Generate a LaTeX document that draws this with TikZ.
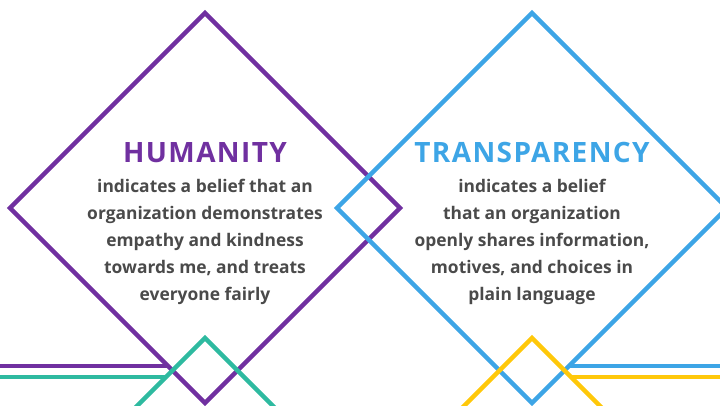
\documentclass[tikz,border=0pt]{standalone}
\usepackage{fontspec}
\setmainfont{Open Sans}
\newfontfamily\spacedfont[LetterSpace=5]{Open Sans}
\definecolor{hpurple}{HTML}{7030A0}
\definecolor{tblue}{HTML}{3DA5E6}
\definecolor{cteal}{HTML}{2EBAA0}
\definecolor{cyellow}{HTML}{FFC80A}
\definecolor{bodygray}{HTML}{4A4A4A}
\begin{document}
\begin{tikzpicture}[x=1pt,y=-1pt,
  frame/.style={line width=4.5pt, line join=miter},
  title/.style={font=\spacedfont\bfseries\fontsize{28}{30}\selectfont, anchor=center},
  body/.style={font=\bfseries\fontsize{17.4}{26.8}\selectfont, text=bodygray, align=center, anchor=center}]
\useasboundingbox (0,0) rectangle (720,406);
\clip (0,0) rectangle (720,406);
% purple diamond and line
\coordinate (pT) at (205,13);
\coordinate (pR) at (400,208);
\coordinate (pB) at (205,403);
\coordinate (pL) at (10,208);
\draw[frame, hpurple] (pT) -- (pR) -- (pB) -- (pL) -- cycle;
% blue diamond
\coordinate (bT) at (532,13);
\coordinate (bR) at (727,208);
\coordinate (bB) at (532,403);
\coordinate (bL) at (337,208);
\draw[frame, tblue] (bT) -- (bR) -- (bB) -- (bL) -- cycle;
% horizontal lines
\coordinate (phL) at (-5,366);
\coordinate (phR) at (168,366);
\draw[frame, hpurple] (phL) -- (phR);
\coordinate (bhL) at (569,366);
\coordinate (bhR) at (725,366);
\draw[frame, tblue] (bhL) -- (bhR);
% teal small diamond
\coordinate (tT) at (205,338);
\coordinate (tL) at (120,423);
\coordinate (tR) at (290,423);
\draw[frame, cteal] (tL) -- (tT) -- (tR);
\coordinate (thL) at (-5,377);
\coordinate (thR) at (166,377);
\draw[frame, cteal] (thL) -- (thR);
% yellow small diamond
\coordinate (yT) at (532,338);
\coordinate (yL) at (447,423);
\coordinate (yR) at (617,423);
\draw[frame, cyellow] (yL) -- (yT) -- (yR);
\coordinate (yhL) at (571,377);
\coordinate (yhR) at (725,377);
\draw[frame, cyellow] (yhL) -- (yhR);
% texts
\node[title, text=hpurple] (ht) at (205,153) {HUMANITY};
\node[body] (hb) at (205,242) {indicates a belief that an\\organization demonstrates\\empathy and kindness\\towards me, and treats\\everyone fairly};
\node[title, text=tblue] (tt) at (532,153) {TRANSPARENCY};
\node[body] (tb) at (532,242) {indicates a belief\\that an organization\\openly shares information,\\motives, and choices in\\plain language};
\end{tikzpicture}
\end{document}
